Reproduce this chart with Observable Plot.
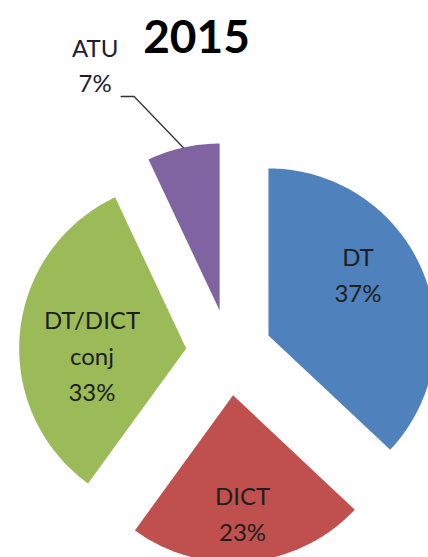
<!DOCTYPE html>
<html><head><meta charset="utf-8">
<script src="https://cdn.jsdelivr.net/npm/d3@7"></script>
<script src="https://cdn.jsdelivr.net/npm/@observablehq/plot@0.6"></script>
<style>html,body{margin:0;padding:0;background:#fff;overflow:hidden}</style>
</head><body><div id="chart"></div>
<script>
const title = "2015";
const categories = ["DT", "DICT", "DT/DICT conj", "ATU"];
const labelNames = ["DT", "DICT", "DT/DICT\nconj", "ATU"];
const shares = [37, 23, 33, 7];
const colors = ["#4F81BD", "#C0504D", "#9BBB59", "#8064A2"];

const W = 428, H = 557;
// layout (pixels / fractions of radius / radians)
const layout = {cx: 228.5, cy: 352, r: 167, explode: 43, outR: 1.38, outTurn: -0.16, outTail: 13};
// per-slice inside-label placement (fraction of radius, turn from bisector)
const labelDist = [0.655, 0.698, 0.565, 0];
const labelTurn = [-0.204, 0.013, -0.148, 0];

const arcs = d3.pie().sort(null).value(d => d)(shares);
const dir = a => [Math.sin(a), -Math.cos(a)];
const slices = arcs.map((a, i) => {
  const mid = (a.startAngle + a.endAngle) / 2;
  const [ux, uy] = dir(mid);
  return {
    i, cat: categories[i], name: labelNames[i], share: shares[i],
    start: a.startAngle, end: a.endAngle, mid,
    ax: layout.cx + layout.explode * ux, ay: layout.cy + layout.explode * uy
  };
});

const polyPts = slices.flatMap(s => {
  const pts = [{cat: s.cat, x: s.ax, y: s.ay}];
  const n = Math.max(2, Math.ceil((s.end - s.start) * 180 / Math.PI));
  for (let k = 0; k <= n; k++) {
    const a = s.start + (s.end - s.start) * k / n;
    const [ux, uy] = dir(a);
    pts.push({cat: s.cat, x: s.ax + layout.r * ux, y: s.ay + layout.r * uy});
  }
  return pts;
});

const inside = slices.filter(s => s.share >= 10).map(s => {
  const [ux, uy] = dir(s.mid + labelTurn[s.i]);
  const d = labelDist[s.i] * layout.r;
  return {x: s.ax + d * ux, y: s.ay + d * uy, text: `${s.name}\n${s.share}%`};
});

const outsideSlices = slices.filter(s => s.share < 10);
const leaderPts = outsideSlices.flatMap(s => {
  const [ux, uy] = dir(s.mid);
  const [vx, vy] = dir(s.mid + layout.outTurn);
  const ex = s.ax + layout.outR * layout.r * vx, ey = s.ay + layout.outR * layout.r * vy;
  return [
    {cat: s.cat, x: s.ax + layout.r * ux, y: s.ay + layout.r * uy},
    {cat: s.cat, x: ex, y: ey},
    {cat: s.cat, x: ex - layout.outTail, y: ey}
  ];
});
const outside = outsideSlices.map(s => {
  const [vx, vy] = dir(s.mid + layout.outTurn);
  return {x: s.ax + layout.outR * layout.r * vx - layout.outTail, y: s.ay + layout.outR * layout.r * vy, text: `${s.name}\n${s.share}%`};
});

const chart = Plot.plot({
  width: W, height: H, margin: 0,
  style: {background: "#fff", overflow: "hidden"},
  x: {domain: [0, W], range: [0, W], axis: null},
  y: {domain: [0, H], range: [0, H], axis: null},
  color: {domain: categories, range: colors},
  marks: [
    Plot.line(polyPts, {x: "x", y: "y", z: "cat", fill: "cat", stroke: "none", curve: "linear-closed"}),
    Plot.line(leaderPts, {x: "x", y: "y", z: "cat", stroke: "#333", strokeWidth: 1.3}),
    Plot.text(inside, {x: "x", y: "y", text: "text", fontSize: 24, lineHeight: 1.5, fill: "#1e1e1e", fontFamily: "Lato"}),
    Plot.text(outside, {x: "x", y: "y", text: "text", fontSize: 24, lineHeight: 1.45, fill: "#1e1e2e", fontFamily: "Lato", textAnchor: "middle", lineAnchor: "bottom", dx: -26, dy: -5}),
    Plot.text([title], {text: d => d, frameAnchor: "top", lineAnchor: "top", dx: -18, dy: 20, fontSize: 46, fontWeight: "bold", fontFamily: "Lato", fill: "#000"})
  ]
});
document.getElementById("chart").appendChild(chart);
</script>
</body></html>
